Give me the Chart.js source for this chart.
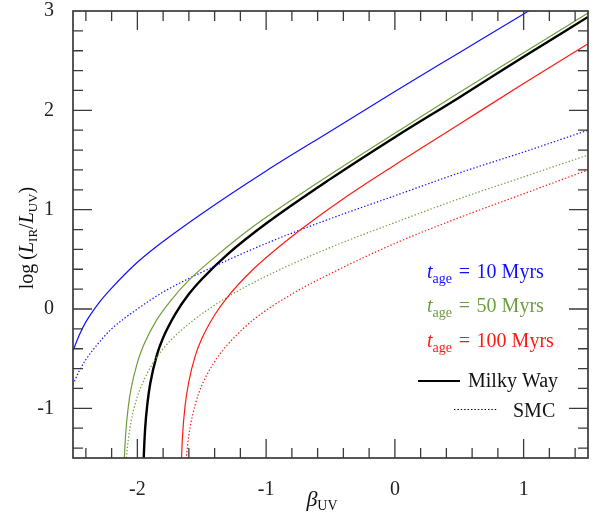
<!DOCTYPE html>
<html>
<head>
<meta charset="utf-8">
<script src="https://cdn.jsdelivr.net/npm/chart.js@4.4.1/dist/chart.umd.min.js"></script>
<style>
  html, body { margin: 0; background: #fff; }
</style>
</head>
<body>
<canvas id="irxChart" width="598" height="514"></canvas>
<script>
// tick labels
const betaTicks = [-2, -1, 0, 1];
const irxTicks = [-1, 0, 1, 2, 3];

// IRX-beta curves: beta_UV and log(L_IR/L_UV)
// Milky Way dust
const mw10Beta = [-2.5, -2.45, -2.4, -2.3, -2.2, -2.0, -1.8, -1.5, -1.0, -0.5, 0, 0.5, 1.0, 1.1];
const mw10Irx  = [-0.42, -0.26, -0.13, 0.06, 0.21, 0.47, 0.68, 0.96, 1.39, 1.79, 2.19, 2.58, 2.97, 3.05];

const mw50Beta = [-2.105, -2.10, -2.09, -2.07, -2.05, -2.0, -1.95, -1.85, -1.75, -1.6, -1.4, -1.1, -0.6, 0, 0.5, 1.0, 1.5];
const mw50Irx  = [-1.64, -1.47, -1.24, -0.98, -0.81, -0.54, -0.36, -0.11, 0.07, 0.29, 0.52, 0.83, 1.27, 1.77, 2.18, 2.58, 2.98];

const mw100Beta = [-1.66, -1.65, -1.63, -1.6, -1.55, -1.5, -1.4, -1.3, -1.1, -0.8, -0.4, 0, 0.5, 1.0, 1.5];
const mw100Irx  = [-1.60, -1.29, -0.98, -0.73, -0.47, -0.30, -0.06, 0.12, 0.40, 0.73, 1.11, 1.45, 1.86, 2.27, 2.67];

const mwRefBeta = [-1.955, -1.95, -1.94, -1.92, -1.9, -1.85, -1.8, -1.7, -1.6, -1.5, -1.3, -1.0, -0.5, 0, 0.5, 1.0, 1.5];
const mwRefIrx  = [-1.72, -1.48, -1.21, -0.93, -0.75, -0.47, -0.29, -0.04, 0.15, 0.30, 0.55, 0.86, 1.31, 1.73, 2.13, 2.54, 2.94];

// SMC dust
const smc10Beta = [-2.5, -2.45, -2.4, -2.3, -2.2, -2.0, -1.8, -1.5, -1.0, -0.5, 0, 0.5, 1.0, 1.5];
const smc10Irx  = [-0.76, -0.62, -0.51, -0.34, -0.20, 0.00, 0.17, 0.37, 0.66, 0.91, 1.14, 1.37, 1.58, 1.80];

const smc50Beta = [-2.09, -2.085, -2.07, -2.05, -2.0, -1.95, -1.9, -1.8, -1.6, -1.3, -1.0, -0.5, 0, 0.5, 1.0, 1.5];
const smc50Irx  = [-1.57, -1.49, -1.31, -1.14, -0.88, -0.72, -0.59, -0.40, -0.15, 0.12, 0.33, 0.62, 0.87, 1.11, 1.33, 1.55];

const smc100Beta = [-1.625, -1.62, -1.61, -1.59, -1.55, -1.5, -1.4, -1.3, -1.1, -0.8, -0.4, 0, 0.5, 1.0, 1.5];
const smc100Irx  = [-1.58, -1.50, -1.37, -1.19, -0.96, -0.77, -0.53, -0.36, -0.11, 0.15, 0.42, 0.66, 0.92, 1.16, 1.40];

const BLUE = '#1010ff';
const GREEN = '#6e9e3c';
const RED = '#ff1a10';
const SERIF = '"Liberation Serif", "DejaVu Serif", serif';

function pts(xs, ys) {
  return xs.map((x, i) => ({ x: x, y: ys[i] }));
}

function curve(xs, ys, color, width, dotted) {
  return {
    data: pts(xs, ys),
    showLine: true,
    borderColor: color,
    borderWidth: width,
    borderDash: dotted ? [1.4, 2] : [],
    pointRadius: 0,
    cubicInterpolationMode: 'monotone',
    fill: false
  };
}

// draws a run of text pieces: [text, style, size, baselineShift]
function drawPieces(ctx, pieces, x, y) {
  let cx = x;
  pieces.forEach(([txt, style, size, dy]) => {
    ctx.font = style + ' ' + size + 'px ' + SERIF;
    ctx.fillText(txt, cx, y + dy);
    cx += ctx.measureText(txt).width;
  });
  return cx - x;
}

function piecesWidth(ctx, pieces) {
  let w = 0;
  pieces.forEach(([txt, style, size]) => {
    ctx.font = style + ' ' + size + 'px ' + SERIF;
    w += ctx.measureText(txt).width;
  });
  return w;
}

const frame = {
  id: 'frame',
  afterDatasetsDraw(chart) {
    const { ctx, chartArea: a, scales: { x, y } } = chart;
    ctx.save();
    ctx.strokeStyle = '#3a3a3a';
    ctx.lineWidth = 1.3;
    ctx.beginPath();
    // ticks every 0.2, longer on integers, drawn inward on all four sides
    for (let i = -24; i <= 14; i += 2) {
      const px = x.getPixelForValue(i / 10);
      const len = i % 10 === 0 ? 19 : 10;
      ctx.moveTo(px, a.bottom); ctx.lineTo(px, a.bottom - len);
      ctx.moveTo(px, a.top); ctx.lineTo(px, a.top + len);
    }
    for (let i = -14; i <= 28; i += 2) {
      const py = y.getPixelForValue(i / 10);
      const len = i % 10 === 0 ? 19 : 10;
      ctx.moveTo(a.left, py); ctx.lineTo(a.left + len, py);
      ctx.moveTo(a.right, py); ctx.lineTo(a.right - len, py);
    }
    ctx.stroke();
    ctx.lineWidth = 1.7;
    ctx.strokeRect(a.left, a.top, a.right - a.left, a.bottom - a.top);
    ctx.restore();
  },
  afterDraw(chart) {
    const ctx = chart.ctx;
    ctx.save();
    ctx.textBaseline = 'alphabetic';
    ctx.textAlign = 'left';

    // x axis title
    ctx.fillStyle = '#111';
    const xt = [['\u03b2', 'italic', 22, 0], ['UV', 'normal', 14, 4]];
    drawPieces(ctx, xt, 322 - piecesWidth(ctx, xt) / 2, 506);

    // y axis title, rotated
    const yt = [['log\u2009(', 'normal', 20, 0], ['L', 'italic', 20, 0], ['IR', 'normal', 13, 4],
                ['/', 'normal', 20, 0], ['L', 'italic', 20, 0], ['UV', 'normal', 13, 4], [')', 'normal', 20, 0]];
    ctx.translate(33, 238);
    ctx.rotate(-Math.PI / 2);
    drawPieces(ctx, yt, -piecesWidth(ctx, yt) / 2, 0);
    ctx.setTransform(1, 0, 0, 1, 0, 0);

    // legend
    const ages = [['10', BLUE, 278], ['50', GREEN, 312], ['100', RED, 347]];
    ages.forEach(([age, color, by]) => {
      ctx.fillStyle = color;
      drawPieces(ctx, [['t', 'italic', 20, 0], ['age', 'normal', 14, 5],
                       [' \u200a=\u200a ' + age + ' Myrs', 'normal', 20, 0]], 427, by);
    });

    ctx.fillStyle = '#111';
    ctx.font = '20px ' + SERIF;
    ctx.fillText('Milky Way', 468, 387);
    ctx.fillText('SMC', 513, 417);

    ctx.strokeStyle = '#000';
    ctx.lineWidth = 2;
    ctx.beginPath();
    ctx.moveTo(418, 381); ctx.lineTo(460, 381);
    ctx.stroke();
    ctx.lineWidth = 1.2;
    ctx.setLineDash([1.4, 2]);
    ctx.beginPath();
    ctx.moveTo(454, 409.5); ctx.lineTo(497, 409.5);
    ctx.stroke();
    ctx.restore();
  }
};

// keep tick-label overhang out of the layout so the plot box sits where padding puts it
function noOverhang(s) {
  s.paddingTop = 0; s.paddingBottom = 0; s.paddingLeft = 0; s.paddingRight = 0;
}

new Chart(document.getElementById('irxChart'), {
  type: 'scatter',
  data: {
    datasets: [
      curve(mw10Beta, mw10Irx, BLUE, 1.2, false),
      curve(mw50Beta, mw50Irx, GREEN, 1.2, false),
      curve(mw100Beta, mw100Irx, RED, 1.2, false),
      curve(smc10Beta, smc10Irx, BLUE, 1.2, true),
      curve(smc50Beta, smc50Irx, GREEN, 1.2, true),
      curve(smc100Beta, smc100Irx, RED, 1.2, true),
      curve(mwRefBeta, mwRefIrx, '#000', 2.4, false)
    ]
  },
  options: {
    responsive: false,
    animation: false,
    devicePixelRatio: 1,
    layout: { padding: { top: 11, right: 10, left: 0, bottom: 0 } },
    plugins: { legend: { display: false }, tooltip: { enabled: false } },
    scales: {
      x: {
        type: 'linear',
        min: -2.5,
        max: 1.5,
        grid: { display: false },
        border: { display: false },
        afterBuildTicks: s => { s.ticks = betaTicks.map(v => ({ value: v })); },
        afterFit: s => { s.height = 56; noOverhang(s); },
        ticks: { color: '#222', padding: 12, font: { family: SERIF, size: 20 } }
      },
      y: {
        type: 'linear',
        min: -1.5,
        max: 3,
        grid: { display: false },
        border: { display: false },
        afterBuildTicks: s => { s.ticks = irxTicks.map(v => ({ value: v })); },
        afterFit: s => { s.width = 73; noOverhang(s); },
        ticks: { color: '#222', padding: 11, font: { family: SERIF, size: 20 } }
      }
    }
  },
  plugins: [frame]
});
</script>
</body>
</html>
